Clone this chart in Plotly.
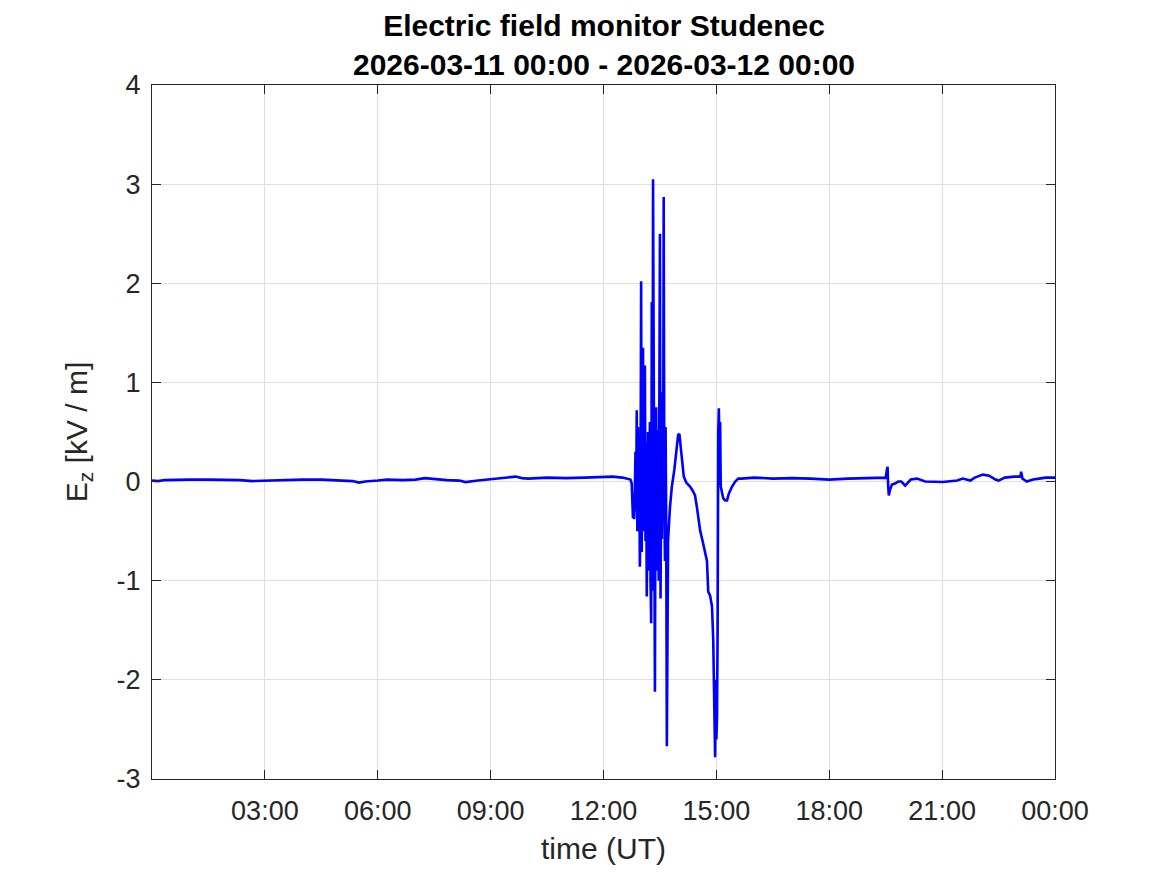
import pandas as pd
import plotly.graph_objects as go

# ---- data (time of day "HH:MM", Ez in kV/m) ----
times = [
    "00:00", "00:10", "00:20", "00:40", "01:00", "01:30", "02:00", "02:20", "02:40", "03:00",
    "03:30", "04:00", "04:30", "05:00", "05:20", "05:30", "05:40", "06:00", "06:15", "06:40",
    "07:00", "07:15", "07:30", "07:50", "08:10", "08:20", "08:40", "09:00", "09:15", "09:30",
    "09:40", "09:50", "10:00", "10:30", "11:00", "11:30", "12:00", "12:15", "12:30", "12:40",
    "12:43", "12:45", "12:46", "12:47", "12:48", "12:49", "12:50", "12:51", "12:52", "12:53",
    "12:54", "12:55", "12:56", "12:57", "12:58", "12:59", "13:00", "13:01", "13:02", "13:03",
    "13:04", "13:05", "13:06", "13:07", "13:08", "13:09", "13:10", "13:11", "13:12", "13:13",
    "13:14", "13:15", "13:16", "13:17", "13:18", "13:19", "13:20", "13:21", "13:22", "13:23",
    "13:24", "13:25", "13:26", "13:27", "13:28", "13:29", "13:30", "13:31", "13:32", "13:33",
    "13:34", "13:35", "13:36", "13:37", "13:38", "13:39", "13:40", "13:41", "13:42", "13:43",
    "13:46", "13:49", "13:53", "13:56", "13:59", "14:01", "14:03", "14:05", "14:08", "14:12",
    "14:18", "14:22", "14:26", "14:29", "14:32", "14:34", "14:38", "14:42", "14:45", "14:47",
    "14:50", "14:53", "14:55", "14:56", "14:57", "14:58", "14:59", "15:00", "15:01", "15:02",
    "15:03", "15:04", "15:05", "15:06", "15:07", "15:09", "15:11", "15:14", "15:17", "15:20",
    "15:25", "15:30", "15:35", "15:40", "16:00", "16:30", "17:00", "17:30", "18:00", "18:30",
    "19:00", "19:30", "19:32", "19:33", "19:34", "19:35", "19:37", "19:40", "19:45", "19:50",
    "19:55", "20:01", "20:04", "20:10", "20:20", "20:33", "21:01", "21:24", "21:33", "21:45",
    "21:52", "22:05", "22:15", "22:25", "22:30", "22:40", "22:55", "23:05", "23:06", "23:08",
    "23:15", "23:25", "23:35", "23:45", "24:00",
]
ez = [
    0.01, 0.005, 0.015, 0.02, 0.02, 0.02, 0.02, 0.015, 0.005, 0.01,
    0.015, 0.02, 0.02, 0.01, 0.005, -0.01, 0.0, 0.01, 0.02, 0.015,
    0.02, 0.035, 0.025, 0.015, 0.01, -0.005, 0.01, 0.025, 0.03, 0.04,
    0.05, 0.035, 0.03, 0.04, 0.035, 0.04, 0.045, 0.05, 0.04, 0.03,
    0.02, -0.02, -0.15, -0.37, -0.2, -0.38, -0.1, 0.3, -0.3, 0.72,
    -0.5, 0.55, -0.4, 0.1, -0.86, -0.2, 2.02, -0.71, 0.6, 1.35,
    -0.5, 0.8, 1.17, -0.6, 0.4, -1.16, -0.3, 0.5, -0.9, -0.3,
    0.6, -1.0, -1.43, 1.81, -1.1, 3.05, 0.2, -0.9, -2.12, 0.3,
    0.75, -0.9, -0.2, 0.52, -1.0, 0.1, 2.5, -1.18, 0.2, -0.58,
    0.9, -0.4, 2.87, -0.2, -0.8, 0.55, -0.4, -2.67, -1.65, -0.59,
    -0.26, -0.05, 0.12, 0.32, 0.47, 0.48, 0.35, 0.22, 0.05, -0.01,
    -0.05, -0.09, -0.14, -0.26, -0.38, -0.49, -0.6, -0.72, -0.8, -1.11,
    -1.15, -1.26, -1.6, -2.0, -2.4, -2.78, -2.0, -2.6, -2.38, -1.5,
    0.5, 0.74, 0.2, 0.6, -0.05, -0.1, -0.17, -0.19, -0.19, -0.12,
    -0.05, 0.0, 0.03, 0.03, 0.04, 0.03, 0.035, 0.03, 0.02, 0.03,
    0.035, 0.04, 0.12, 0.15, -0.05, -0.14, -0.08, -0.03, -0.02, 0.0,
    0.0, -0.04, -0.02, 0.02, 0.03, 0.0, -0.005, 0.01, 0.03, 0.01,
    0.04, 0.07, 0.06, 0.02, 0.01, 0.04, 0.05, 0.05, 0.1, 0.03,
    0.0, 0.02, 0.03, 0.04, 0.04,
]

day_start = "2026-03-11 00:00"
day_end = "2026-03-12 00:00"
x_tick_hours = [3, 6, 9, 12, 15, 18, 21, 24]
x_tick_labels = ["03:00", "06:00", "09:00", "12:00", "15:00", "18:00", "21:00", "00:00"]
y_tick_vals = [-3, -2, -1, 0, 1, 2, 3, 4]
y_tick_labels = ["-3", "-2", "-1", "0", "1", "2", "3", "4"]

title_lines = ["Electric field monitor Studenec", "2026-03-11 00:00 - 2026-03-12 00:00"]
x_title = "time (UT)"
y_title = "E<sub>z</sub> [kV / m]"

# ---- build ----
t0 = pd.Timestamp(day_start)


def to_ts(s):
    h, m = s.split(":")
    return t0 + pd.Timedelta(minutes=int(h) * 60 + int(m))


xt = [to_ts(s) for s in times]
tickvals = [t0 + pd.Timedelta(hours=h) for h in x_tick_hours]

FONT = "Liberation Sans, Arial, Helvetica, sans-serif"
AX = "#262626"
GRID = "#dfdfdf"

fig = go.Figure()
fig.add_trace(go.Scatter(x=xt, y=ez, mode="lines",
                         line=dict(color="#0000ff", width=2.6), showlegend=False))

# page body adds an 8px offset; margins compensate
fig.update_layout(
    width=1167, height=875,
    paper_bgcolor="white", plot_bgcolor="white",
    margin=dict(l=144, r=120, t=77, b=104),
    font=dict(family=FONT, color=AX),
)
fig.add_annotation(
    text="<b>" + "<br>".join(title_lines) + "</b>",
    xref="paper", yref="paper", x=0.5, y=1, xanchor="center", yanchor="bottom",
    yshift=2, showarrow=False, align="center",
    font=dict(size=30, color="black", family=FONT),
)
fig.update_xaxes(
    range=[pd.Timestamp(day_start), pd.Timestamp(day_end)],
    tickmode="array", tickvals=tickvals, ticktext=x_tick_labels,
    tickfont=dict(size=27, color=AX), ticklabelstandoff=8,
    ticks="inside", ticklen=9, tickcolor=AX, tickwidth=1,
    showline=True, linecolor=AX, linewidth=1, mirror="ticks",
    showgrid=True, gridcolor=GRID, gridwidth=1, zeroline=False,
    title=dict(text=x_title, font=dict(size=30, color=AX), standoff=12),
)
fig.update_yaxes(
    range=[-3, 4],
    tickmode="array", tickvals=y_tick_vals, ticktext=y_tick_labels,
    tickfont=dict(size=27, color=AX), ticklabelstandoff=5,
    ticks="inside", ticklen=9, tickcolor=AX, tickwidth=1,
    showline=True, linecolor=AX, linewidth=1, mirror="ticks",
    showgrid=True, gridcolor=GRID, gridwidth=1, zeroline=False,
    title=dict(text=y_title, font=dict(size=30, color=AX), standoff=20),
)

fig.write_html("out.html")
